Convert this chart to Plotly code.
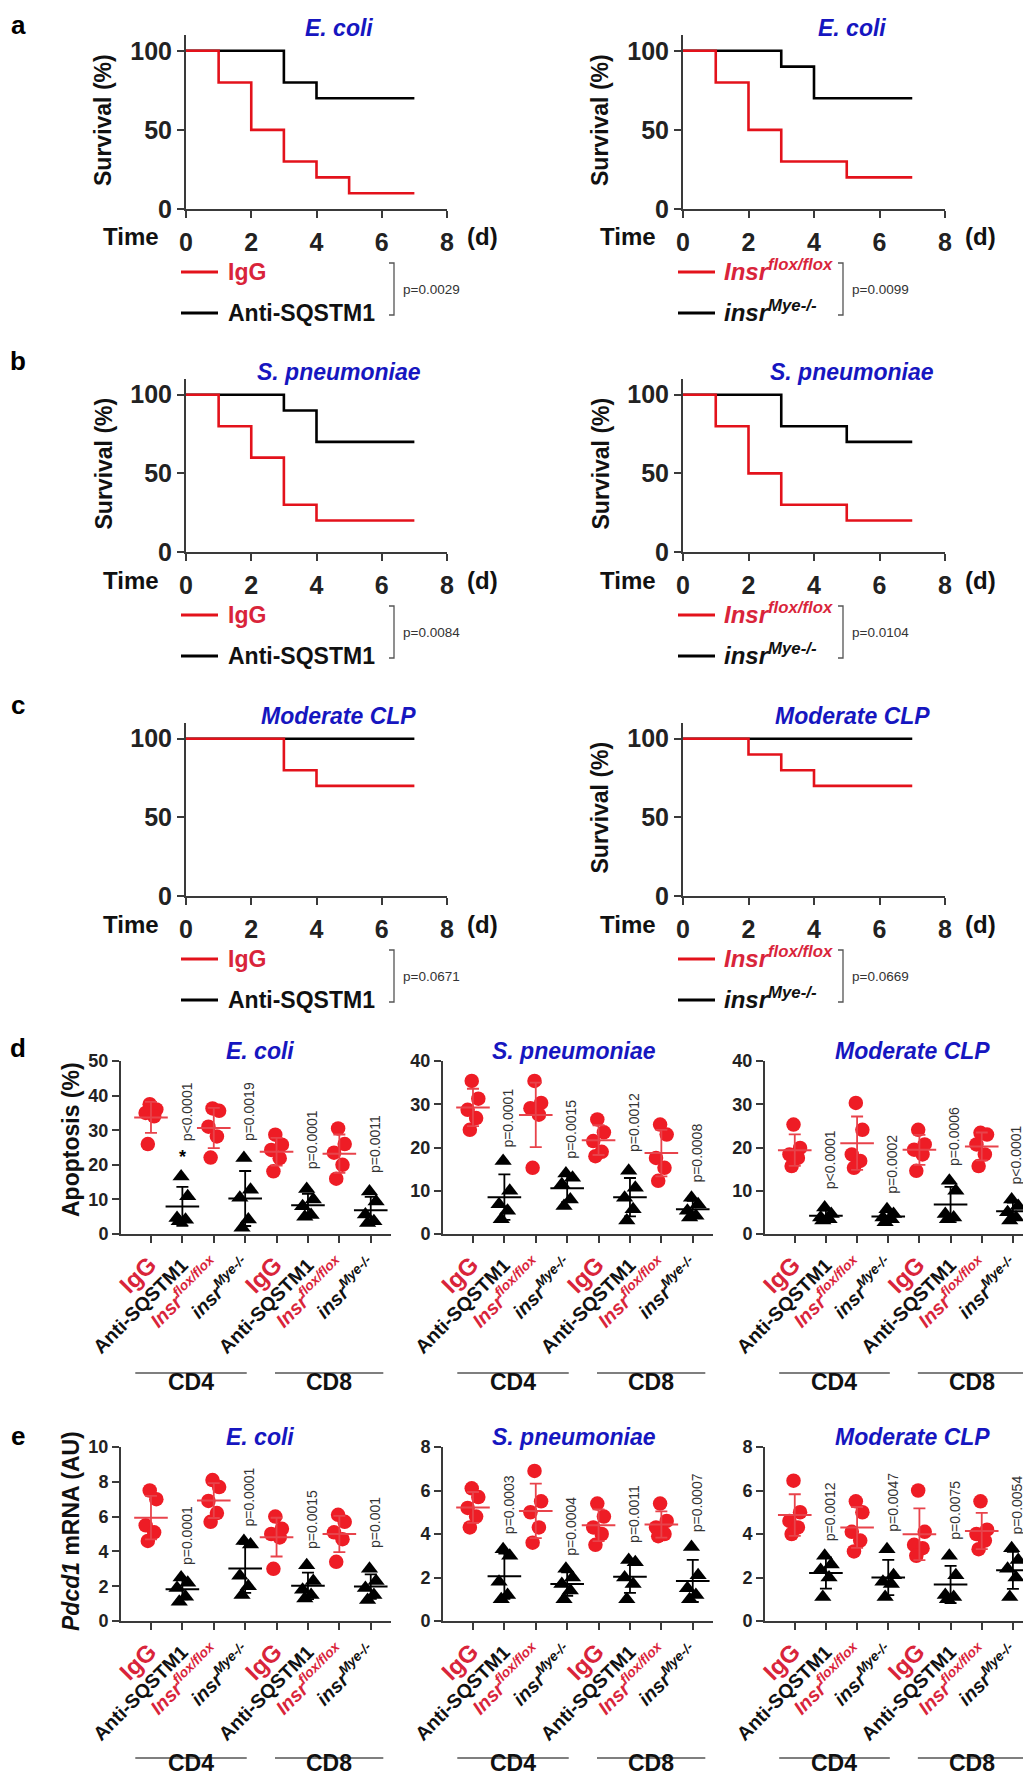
import numpy as np
import plotly.graph_objects as go

W, H = 1031, 1781
FONT = "Liberation Sans, Arial, sans-serif"
RED_LINE = "#e3121b"
RED_TXT = "#d9243a"
RED_DOT = "#ee1c25"
BLUE = "#1616c0"
AX = "#3a3a3a"

# ---------------- survival data (days, % survival) ----------------
days_a1_igg = [0, 1, 2, 3, 4, 5, 7];  surv_a1_igg = [100, 80, 50, 30, 20, 10, 10]
days_a1_anti = [0, 3, 4, 7];          surv_a1_anti = [100, 80, 70, 70]
days_a2_flox = [0, 1, 2, 3, 5, 7];    surv_a2_flox = [100, 80, 50, 30, 20, 20]
days_a2_mye = [0, 3, 4, 7];           surv_a2_mye = [100, 90, 70, 70]
days_b1_igg = [0, 1, 2, 3, 4, 7];     surv_b1_igg = [100, 80, 60, 30, 20, 20]
days_b1_anti = [0, 3, 4, 7];          surv_b1_anti = [100, 90, 70, 70]
days_b2_flox = [0, 1, 2, 3, 5, 7];    surv_b2_flox = [100, 80, 50, 30, 20, 20]
days_b2_mye = [0, 3, 5, 7];           surv_b2_mye = [100, 80, 70, 70]
days_c1_igg = [0, 3, 4, 7];           surv_c1_igg = [100, 80, 70, 70]
days_c1_anti = [0, 7];                surv_c1_anti = [100, 100]
days_c2_flox = [0, 2, 3, 4, 7];       surv_c2_flox = [100, 90, 80, 70, 70]
days_c2_mye = [0, 7];                 surv_c2_mye = [100, 100]

surv_titles = ["E. coli", "E. coli", "S. pneumoniae", "S. pneumoniae", "Moderate CLP", "Moderate CLP"]
surv_pvals = ["p=0.0029", "p=0.0099", "p=0.0084", "p=0.0104", "p=0.0671", "p=0.0669"]
time_ticks = [0, 2, 4, 6, 8]
surv_ticks = [0, 50, 100]

# ---------------- dot-plot data ----------------
group_labels = ["IgG", "Anti-SQSTM1", "Insr flox/flox", "insr Mye-/-"] * 2

apop_ecoli = [
    [37.5, 36, 35, 34, 26],
    [16.6, 10.9, 4.6, 4.1, 3.7],
    [36.3, 35.6, 31.0, 28.2, 22.1],
    [22, 12.8, 10.5, 4.2, 1.8],
    [28.7, 25.8, 24.3, 21.9, 18.1],
    [13, 10, 8, 5.5, 5],
    [30.5, 26, 23.5, 20, 16],
    [12.3, 9.4, 5.6, 3.7, 3.2],
]
apop_spn = [
    [35.4, 31.3, 28.7, 26.8, 24.1],
    [16.9, 10, 6.9, 5.4, 3.4],
    [35.4, 30.3, 29.1, 27.6, 15.3],
    [14, 13, 11.5, 8, 6.5],
    [26.5, 23.5, 21.5, 19, 18],
    [14.6, 10.7, 8.4, 5.7, 3.1],
    [25.3, 23, 17.6, 15.3, 12.3],
    [8.4, 6.9, 5.4, 4.2, 3.8],
]
apop_clp = [
    [25.3, 19.9, 18.4, 17.6, 15.7],
    [6.1, 4.6, 3.8, 3.4, 3.1],
    [30.3, 24.1, 18.4, 16.9, 15.3],
    [5.7, 4.6, 3.8, 3.4, 2.7],
    [24.1, 20.7, 19.5, 18.4, 14.6],
    [12.3, 10, 4.6, 3.8, 3.4],
    [23.4, 23, 20.7, 18.4, 15.7],
    [8, 6.5, 5, 3.8, 3.1],
]
pdcd1_ecoli = [
    [7.5, 7.0, 5.5, 5.1, 4.6],
    [2.5, 2.2, 1.9, 1.4, 1.1],
    [8.1, 7.7, 6.9, 6.2, 5.7],
    [4.6, 4.4, 2.6, 2.0, 1.5],
    [6.0, 5.3, 5.0, 4.8, 3.0],
    [3.2, 2.3, 1.8, 1.5, 1.3],
    [6.1, 5.7, 5.1, 4.7, 3.4],
    [3.0, 2.3, 1.9, 1.5, 1.2],
]
pdcd1_spn = [
    [6.1, 5.7, 5.2, 4.8, 4.3],
    [3.3, 3.0, 1.8, 1.2, 1.0],
    [6.9, 5.5, 5.0, 4.3, 3.6],
    [2.4, 2.0, 1.7, 1.4, 1.0],
    [5.4, 4.8, 4.3, 4.0, 3.5],
    [2.8, 2.7, 2.0, 1.7, 1.0],
    [5.4, 4.6, 4.3, 4.0, 3.9],
    [3.4, 2.1, 1.5, 1.2, 1.0],
]
pdcd1_clp = [
    [6.45, 5.0, 4.6, 4.3, 4.0],
    [3.0, 2.6, 2.35, 2.0, 1.1],
    [5.5, 5.0, 4.1, 3.7, 3.2],
    [3.3, 2.1, 1.8, 1.7, 1.1],
    [6.0, 4.1, 3.5, 3.35, 3.0],
    [3.0, 2.1, 1.2, 1.1, 1.0],
    [5.5, 4.2, 4.0, 3.7, 3.3],
    [3.35, 2.8, 2.4, 2.0, 1.1],
]

pvals_apop_ecoli = ["p<0.0001", "p=0.0019", "p=0.0001", "p=0.0011"]
pvals_apop_spn = ["p=0.0001", "p=0.0015", "p=0.0012", "p=0.0008"]
pvals_apop_clp = ["p<0.0001", "p=0.0002", "p=0.0006", "p<0.0001"]
pvals_pdcd1_ecoli = ["p=0.0001", "p=0.0001", "p=0.0015", "p=0.001"]
pvals_pdcd1_spn = ["p=0.0003", "p=0.0004", "p=0.0011", "p=0.0007"]
pvals_pdcd1_clp = ["p=0.0012", "p=0.0047", "p=0.0075", "p=0.0054"]

# label placement (data units of each panel; layout only)
plabel_y_apop_ecoli = [26.2, 26.2, 18.0, 17.0]
plabel_y_apop_spn = [19.5, 16.9, 18.4, 11.5]
plabel_y_apop_clp = [10.0, 8.8, 15.3, 11.1]
plabel_y_pdcd1_ecoli = [3.1, 5.3, 4.0, 4.1]
plabel_y_pdcd1_spn = [3.9, 2.9, 3.5, 4.0]
plabel_y_pdcd1_clp = [3.6, 4.0, 3.65, 3.9]

# ---------------- helpers ----------------
def px(x):
    return x / W


def py(y):
    return 1 - y / H


annotations = []
shapes = []


def text(x, y, t, size, color="black", bold=True, xanchor="center", yanchor="middle",
         angle=0, xref="paper", yref="paper", family=FONT):
    if xref == "paper":
        x = px(x)
    if yref == "paper":
        y = py(y)
    annotations.append(dict(
        x=x, y=y, xref=xref, yref=yref, text=t, showarrow=False,
        xanchor=xanchor, yanchor=yanchor, textangle=angle,
        font=dict(family=family, size=size, color=color, weight="bold" if bold else "normal"),
    ))


def line(x0, y0, x1, y1, color, width, xref="paper", yref="paper"):
    if xref == "paper":
        x0, x1 = px(x0), px(x1)
    if yref == "paper":
        y0, y1 = py(y0), py(y1)
    shapes.append(dict(type="line", x0=x0, y0=y0, x1=x1, y1=y1, xref=xref, yref=yref,
                       line=dict(color=color, width=width)))


fig = go.Figure()
layout_axes = {}

# ---------------- survival panels ----------------
surv_sets = [
    (days_a1_igg, surv_a1_igg, days_a1_anti, surv_a1_anti),
    (days_a2_flox, surv_a2_flox, days_a2_mye, surv_a2_mye),
    (days_b1_igg, surv_b1_igg, days_b1_anti, surv_b1_anti),
    (days_b2_flox, surv_b2_flox, days_b2_mye, surv_b2_mye),
    (days_c1_igg, surv_c1_igg, days_c1_anti, surv_c1_anti),
    (days_c2_flox, surv_c2_flox, days_c2_mye, surv_c2_mye),
]
cols = [(178, 439), (675, 937)]
rows = [(27, 201), (371, 544), (715, 888)]
title_dx = [22, 38]
show_ylab = [True, True, True, True, False, True]

for i, (dr, sr, db, sb) in enumerate(surv_sets):
    n = i + 1
    xa, ya = ("x", "y") if n == 1 else (f"x{n}", f"y{n}")
    c = i % 2
    r = i // 2
    x0, x1 = cols[c]
    yt, yb = rows[r]
    fig.add_trace(go.Scatter(x=db, y=sb, mode="lines", line=dict(color="black", width=2.6, shape="hv"),
                             xaxis=xa, yaxis=ya, showlegend=False, cliponaxis=False))
    fig.add_trace(go.Scatter(x=dr, y=sr, mode="lines", line=dict(color=RED_LINE, width=2.6, shape="hv"),
                             xaxis=xa, yaxis=ya, showlegend=False, cliponaxis=False))
    kx = "xaxis" if n == 1 else f"xaxis{n}"
    ky = "yaxis" if n == 1 else f"yaxis{n}"
    layout_axes[kx] = dict(domain=[px(x0), px(x1)], anchor=ya, range=[0, 8], tickvals=time_ticks,
                           showline=True, linecolor=AX, linewidth=2, ticks="outside", ticklen=7,
                           tickwidth=2, tickcolor=AX, showgrid=False, zeroline=False,
                           tickfont=dict(family=FONT, size=25, color="#222", weight="bold"),
                           ticklabelstandoff=3, fixedrange=True, automargin=False)
    layout_axes[ky] = dict(domain=[py(yb), py(yt)], anchor=xa, range=[0, 110], tickvals=surv_ticks,
                           showline=True, linecolor=AX, linewidth=2, ticks="outside", ticklen=7,
                           tickwidth=2, tickcolor=AX, showgrid=False, zeroline=False,
                           tickfont=dict(family=FONT, size=25, color="#222", weight="bold"),
                           fixedrange=True, automargin=False)
    # axis decorations
    text(x0 - 25, yb + 28, "Time", 24, "#111", xanchor="right")
    text(x1 + 18, yb + 28, "(d)", 24, "#111", xanchor="left")
    if show_ylab[i]:
        text(x0 - 83, (yt + yb) / 2 - 2, "Survival (%)", 23, "#111", angle=-90)
    text((x0 + x1) / 2 + title_dx[c], yt - 7, f"<i>{surv_titles[i]}</i>", 23, BLUE)
    # legend
    ly1, ly2 = yb + 63, yb + 104
    lx0 = x0 - 5
    line(lx0, ly1, lx0 + 37, ly1, RED_LINE, 3)
    line(lx0, ly2, lx0 + 37, ly2, "black", 3)
    if c == 0:
        text(lx0 + 45, ly1, "IgG", 23, RED_TXT, xanchor="left")
        text(lx0 + 45, ly2, "Anti-SQSTM1", 23, "#111", xanchor="left")
        bx = x0 + 208
    else:
        text(lx0 + 44, ly1 - 2, "<i>Insr<sup>flox/flox</sup></i>", 24, RED_TXT, xanchor="left")
        text(lx0 + 44, ly2 - 2, "<i>insr<sup>Mye-/-</sup></i>", 24, "#111", xanchor="left")
        bx = x0 + 160
    shapes.append(dict(type="path", xref="paper", yref="paper",
                       path=f"M {px(bx - 5)},{py(ly1 - 9)} L {px(bx)},{py(ly1 - 9)} L {px(bx)},{py(ly2 + 2)} L {px(bx - 5)},{py(ly2 + 2)}",
                       line=dict(color="#555", width=1.3)))
    text(bx + 7, (ly1 + ly2) / 2 - 3, surv_pvals[i], 13.5, "#333", bold=False, xanchor="left")

# panel letters
for letter, yy in zip("abcde", [17, 353, 697, 1040, 1428]):
    text(10, yy, letter, 26, "black")

# ---------------- dot plots ----------------
dot_sets = [
    (apop_ecoli, pvals_apop_ecoli, plabel_y_apop_ecoli, "E. coli", 50, 10),
    (apop_spn, pvals_apop_spn, plabel_y_apop_spn, "S. pneumoniae", 40, 10),
    (apop_clp, pvals_apop_clp, plabel_y_apop_clp, "Moderate CLP", 40, 10),
    (pdcd1_ecoli, pvals_pdcd1_ecoli, plabel_y_pdcd1_ecoli, "E. coli", 10, 2),
    (pdcd1_spn, pvals_pdcd1_spn, plabel_y_pdcd1_spn, "S. pneumoniae", 8, 2),
    (pdcd1_clp, pvals_pdcd1_clp, plabel_y_pdcd1_clp, "Moderate CLP", 8, 2),
]
dcols = [(113, 383), (435, 705), (757, 1025)]
drows = [(1053, 1226), (1439, 1613)]
dtitle_x = [252, 566, 904]
OFFS = [-0.04, 0.17, -0.17, 0.1, -0.1, 0.04]

IGG_T = f'<span style="color:{RED_TXT};font-size:24px">IgG</span>'
ANTI_T = "Anti-SQSTM1"
FLOX_T = f'<span style="color:{RED_TXT}"><i>Insr<sup>flox/flox</sup></i></span>'
MYE_T = "<i>insr<sup>Mye-/-</sup></i>"
ticktext = [IGG_T, ANTI_T, FLOX_T, MYE_T] * 2
cat_idx = list(range(len(group_labels)))

for j, (groups, pv, pvy, title, ymax, dtick) in enumerate(dot_sets):
    n = 7 + j
    xa, ya = f"x{n}", f"y{n}"
    c = j % 3
    r = j // 3
    x0, x1 = dcols[c]
    yt, yb = drows[r]
    for g, vals in enumerate(groups):
        red = g % 2 == 0
        col = RED_DOT if red else "black"
        xs = [g + OFFS[k] for k in range(len(vals))]
        fig.add_trace(go.Scatter(
            x=xs, y=vals, mode="markers", xaxis=xa, yaxis=ya, showlegend=False, cliponaxis=False,
            marker=dict(symbol="circle" if red else "triangle-up", size=14.5 if red else 15,
                        color=col, line=dict(width=0))))
        m = float(np.mean(vals))
        sd = float(np.std(vals, ddof=1))
        ecol = "#e8434b" if red else "black"
        fig.add_trace(go.Scatter(
            x=[g], y=[m], mode="markers", xaxis=xa, yaxis=ya, showlegend=False, cliponaxis=False,
            marker=dict(symbol="line-ew", size=24, color=ecol, line=dict(width=2, color=ecol)),
            error_y=dict(type="data", array=[sd], color=ecol, thickness=1.8, width=6)))
    layout_axes[f"xaxis{n}"] = dict(
        domain=[px(x0), px(x1)], anchor=ya, range=[-0.955, 7.645], tickvals=cat_idx, ticktext=ticktext,
        tickangle=-45, showline=True, linecolor=AX, linewidth=2, ticks="outside", ticklen=7,
        tickwidth=2, tickcolor=AX, showgrid=False, zeroline=False, fixedrange=True, automargin=False,
        ticklabelstandoff=3,
        tickfont=dict(family=FONT, size=19.5, color="#111", weight="bold"))
    layout_axes[f"yaxis{n}"] = dict(
        domain=[py(yb), py(yt)], anchor=xa, range=[0, ymax], dtick=dtick, tick0=0,
        showline=True, linecolor=AX, linewidth=2, ticks="outside", ticklen=7,
        tickwidth=2, tickcolor=AX, showgrid=False, zeroline=False, fixedrange=True, automargin=False,
        tickfont=dict(family=FONT, size=18, color="#222", weight="bold"))
    # p-value labels next to the black groups
    for k, (ptxt, yv) in enumerate(zip(pv, pvy)):
        text(2 * k + 1 + 0.13, yv, ptxt, 14, "#333", bold=False, angle=-90,
             yanchor="bottom", xref=xa, yref=ya)
    # title
    text(dtitle_x[c], yt - 10, f"<i>{title}</i>", 23, BLUE)
    # CD4 / CD8 group bars
    gl_y = 1365 if r == 0 else 1750
    gt_y = 1389 if r == 0 else 1770
    for (a0, a1, lab) in [(-0.5, 3.05, "CD4"), (3.95, 7.4, "CD8")]:
        shapes.append(dict(type="line", xref=xa, yref="paper", x0=a0, x1=a1, y0=py(gl_y), y1=py(gl_y),
                           line=dict(color="#555", width=1.5)))
        annotations.append(dict(x=(a0 + a1) / 2, y=py(gt_y), xref=xa, yref="paper", text=lab,
                                showarrow=False, font=dict(family=FONT, size=23, color="#111", weight="bold")))

# outlier star in panel d (E. coli, Anti-SQSTM1 CD4)
text(1, 22.4, "*", 18, "black", xref="x7", yref="y7")

# y-axis titles for d / e
text(63, 1132, "Apoptosis (%)", 23, "#111", angle=-90)
text(63, 1523, "<i>Pdcd1</i> mRNA (AU)", 23, "#111", angle=-90)

fig.update_layout(
    width=W, height=H, margin=dict(l=0, r=0, t=0, b=0, autoexpand=False),
    paper_bgcolor="white", plot_bgcolor="white",
    font=dict(family=FONT), showlegend=False,
    annotations=annotations, shapes=shapes, **layout_axes,
)

fig.write_html("out.html")
